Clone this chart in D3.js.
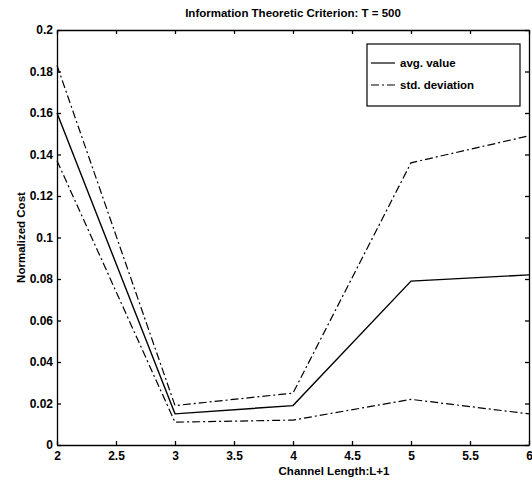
<!DOCTYPE html>
<html>
<head>
<meta charset="utf-8">
<script src="https://cdn.jsdelivr.net/npm/d3@7"></script>
<style>
  body { margin: 0; background: #fff; }
  text { font-family: "Liberation Sans", Arial, sans-serif; fill: #000; }
</style>
</head>
<body>
<div id="chart"></div>
<script>
// channel length L+1
var lengths = [2, 3, 4, 5, 6];
var avgValue = [0.160, 0.015, 0.019, 0.079, 0.082];
var stdUpper = [0.183, 0.019, 0.025, 0.136, 0.149];
var stdLower = [0.137, 0.011, 0.012, 0.022, 0.015];
var xTicks = [2, 2.5, 3, 3.5, 4, 4.5, 5, 5.5, 6];
var yTicks = [0, 0.02, 0.04, 0.06, 0.08, 0.1, 0.12, 0.14, 0.16, 0.18, 0.2];

var width = 532, height = 480;
var margin = {top: 30, right: 3, bottom: 35, left: 57};

var svg = d3.select('#chart').append('svg')
    .attr('width', width)
    .attr('height', height);

var x = d3.scaleLinear().domain([2, 6]).range([margin.left, width - margin.right]);
var y = d3.scaleLinear().domain([0, 0.2]).range([height - margin.bottom, margin.top]);

var fmt = function(d) { return String(d); };

// axes, ticks pointing inward like matlab
var xAxis = svg.append('g')
    .attr('transform', 'translate(0,' + y(0) + ')')
    .call(d3.axisBottom(x).tickValues(xTicks).tickFormat(fmt).tickSizeInner(-4).tickSizeOuter(0).tickPadding(5));
var xTop = svg.append('g')
    .attr('transform', 'translate(0,' + y(0.2) + ')')
    .call(d3.axisTop(x).tickValues(xTicks).tickFormat('').tickSizeInner(-4).tickSizeOuter(0));
var yAxis = svg.append('g')
    .attr('transform', 'translate(' + x(2) + ',0)')
    .call(d3.axisLeft(y).tickValues(yTicks).tickFormat(fmt).tickSizeInner(-4).tickSizeOuter(0).tickPadding(4));
var yRight = svg.append('g')
    .attr('transform', 'translate(' + x(6) + ',0)')
    .call(d3.axisRight(y).tickValues(yTicks).tickFormat('').tickSizeInner(-4).tickSizeOuter(0));

svg.selectAll('.domain, .tick line').attr('stroke', '#000').attr('stroke-width', 1.3);
svg.selectAll('.tick text').style('font-size', '12px').style('font-weight', 'bold');
xAxis.selectAll('.tick text').attr('dy', '0.85em');

// line series
var line = d3.line()
    .x(function(d, i) { return x(lengths[i]); })
    .y(function(d) { return y(d); });

var dashDot = '8,3,2,3';

svg.append('path').datum(avgValue)
    .attr('d', line).attr('fill', 'none').attr('stroke', '#000').attr('stroke-width', 1.4);
svg.append('path').datum(stdUpper)
    .attr('d', line).attr('fill', 'none').attr('stroke', '#000').attr('stroke-width', 1.2)
    .attr('stroke-dasharray', dashDot);
svg.append('path').datum(stdLower)
    .attr('d', line).attr('fill', 'none').attr('stroke', '#000').attr('stroke-width', 1.2)
    .attr('stroke-dasharray', dashDot);

// legend
var legend = svg.append('g').attr('transform', 'translate(367,44)');
legend.append('rect').attr('width', 153).attr('height', 62)
    .attr('fill', '#fff').attr('stroke', '#000').attr('stroke-width', 1.2);
var items = [{label: 'avg. value', dash: null}, {label: 'std. deviation', dash: dashDot}];
items.forEach(function(it, i) {
    var yy = 19 + i * 22;
    legend.append('line').attr('x1', 4).attr('x2', 28).attr('y1', yy).attr('y2', yy)
        .attr('stroke', '#000').attr('stroke-width', 1.2)
        .attr('stroke-dasharray', it.dash);
    legend.append('text').attr('x', 33).attr('y', yy).attr('dy', '0.35em')
        .style('font-size', '11.5px').style('font-weight', 'bold').text(it.label);
});

// titles
svg.append('text').attr('x', (x(2) + x(6)) / 2).attr('y', 17)
    .attr('text-anchor', 'middle').style('font-size', '11.5px').style('font-weight', 'bold')
    .text('Information Theoretic Criterion: T = 500');
svg.append('text').attr('x', 334).attr('y', 475)
    .attr('text-anchor', 'middle').style('font-size', '11.5px').style('font-weight', 'bold')
    .text('Channel Length:L+1');
svg.append('text')
    .attr('transform', 'translate(25,' + ((y(0) + y(0.2)) / 2) + ') rotate(-90)')
    .attr('text-anchor', 'middle').style('font-size', '11.5px').style('font-weight', 'bold')
    .text('Normalized Cost');
</script>
</body>
</html>
